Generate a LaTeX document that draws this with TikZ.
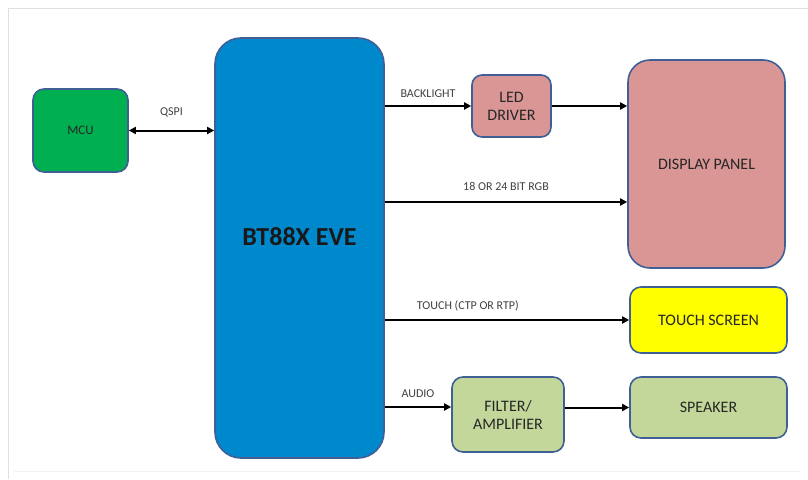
\documentclass[tikz,border=0pt]{standalone}
\usepackage{fontspec}
\setmainfont{Carlito}
\usetikzlibrary{arrows.meta,positioning}
\definecolor{mcugreen}{HTML}{00B050}
\definecolor{evblue}{HTML}{0088CC}
\definecolor{rim}{HTML}{3F5F95}
\definecolor{rosy}{HTML}{D99694}
\definecolor{lemon}{HTML}{FFFF00}
\definecolor{sage}{HTML}{C4D79B}
\definecolor{ink}{HTML}{404040}
\newcommand{\BoxFont}{\fontsize{16}{18}\selectfont}
\tikzset{
  every node/.style={font=\normalsize, text=ink},
  blk/.style 2 args={
    rectangle, rounded corners=#2, draw=rim, line width=1.6pt,
    fill=#1, align=center, text=black!85, inner sep=2pt, font=\BoxFont
  },
  sig/.style={line width=2pt, -{Triangle[length=7pt,width=7pt]}},
  siglbl/.style={font=\fontsize{12}{14}\selectfont, text=ink}
}
\begin{document}
\begin{tikzpicture}[x=1pt,y=-1pt]
\useasboundingbox (0,0) rectangle (808,479);

% frame of the screenshot
\draw[black!12, line width=1pt] (808,8) -- (8,8) -- (8,479);
\draw[black!5, line width=0.6pt] (14,471) -- (800,471);

% =========================
% BLOCKS
% =========================
\node[blk={mcugreen}{11pt}, minimum width=95pt, minimum height=83pt,
      font=\fontsize{13}{15}\selectfont]
  (mcu) at (80.5,130.5) {MCU};
\node[blk={evblue}{26pt}, minimum width=169pt, minimum height=420pt]
  (eve) at (299.5,248) {};
\node[font=\fontsize{26}{30}\selectfont\bfseries, text=black!90]
  (evename) at ([yshift=11pt]eve.center) {BT88X EVE};
\node[blk={rosy}{10pt}, minimum width=79pt, minimum height=62pt]
  (led) at (511.5,106) {LED\\DRIVER};
\node[blk={rosy}{22pt}, minimum width=157pt, minimum height=208pt]
  (panel) at (706.5,164) {DISPLAY PANEL};
\node[blk={lemon}{11pt}, minimum width=157pt, minimum height=66pt]
  (touch) at (708.5,320) {TOUCH SCREEN};
\node[blk={sage}{11pt}, minimum width=112pt, minimum height=75pt]
  (filt) at (508,414.5) {FILTER/\\AMPLIFIER};
\node[blk={sage}{11pt}, minimum width=157pt, minimum height=61pt]
  (spk) at (708.5,407.5) {SPEAKER};

% =========================
% SIGNALS
% =========================
\draw[sig, {Triangle[length=7pt,width=7pt]}-{Triangle[length=7pt,width=7pt]}]
  (mcu.east) -- (mcu.east -| eve.west) node[siglbl, midway, above=9pt] {QSPI};
\draw[sig] (eve.east |- led.west) -- (led.west)
  node[siglbl, midway, above=4pt] {BACKLIGHT};
\draw[sig] (led.east) -- (led.east -| panel.west);
\draw[sig] (eve.east |- 0,202) -- (panel.west |- 0,202)
  node[siglbl, midway, above=7pt] {18 OR 24 BIT RGB};
\draw[sig] (eve.east |- touch.west) -- (touch.west)
  node[siglbl, pos=0.34, above=5pt] {TOUCH (CTP OR RTP)};
\draw[sig] (eve.east |- 0,407) -- (filt.west |- 0,407)
  node[siglbl, midway, above=5pt] {AUDIO};
\draw[sig] (filt.east |- spk.west) -- (spk.west);

\end{tikzpicture}
\end{document}
